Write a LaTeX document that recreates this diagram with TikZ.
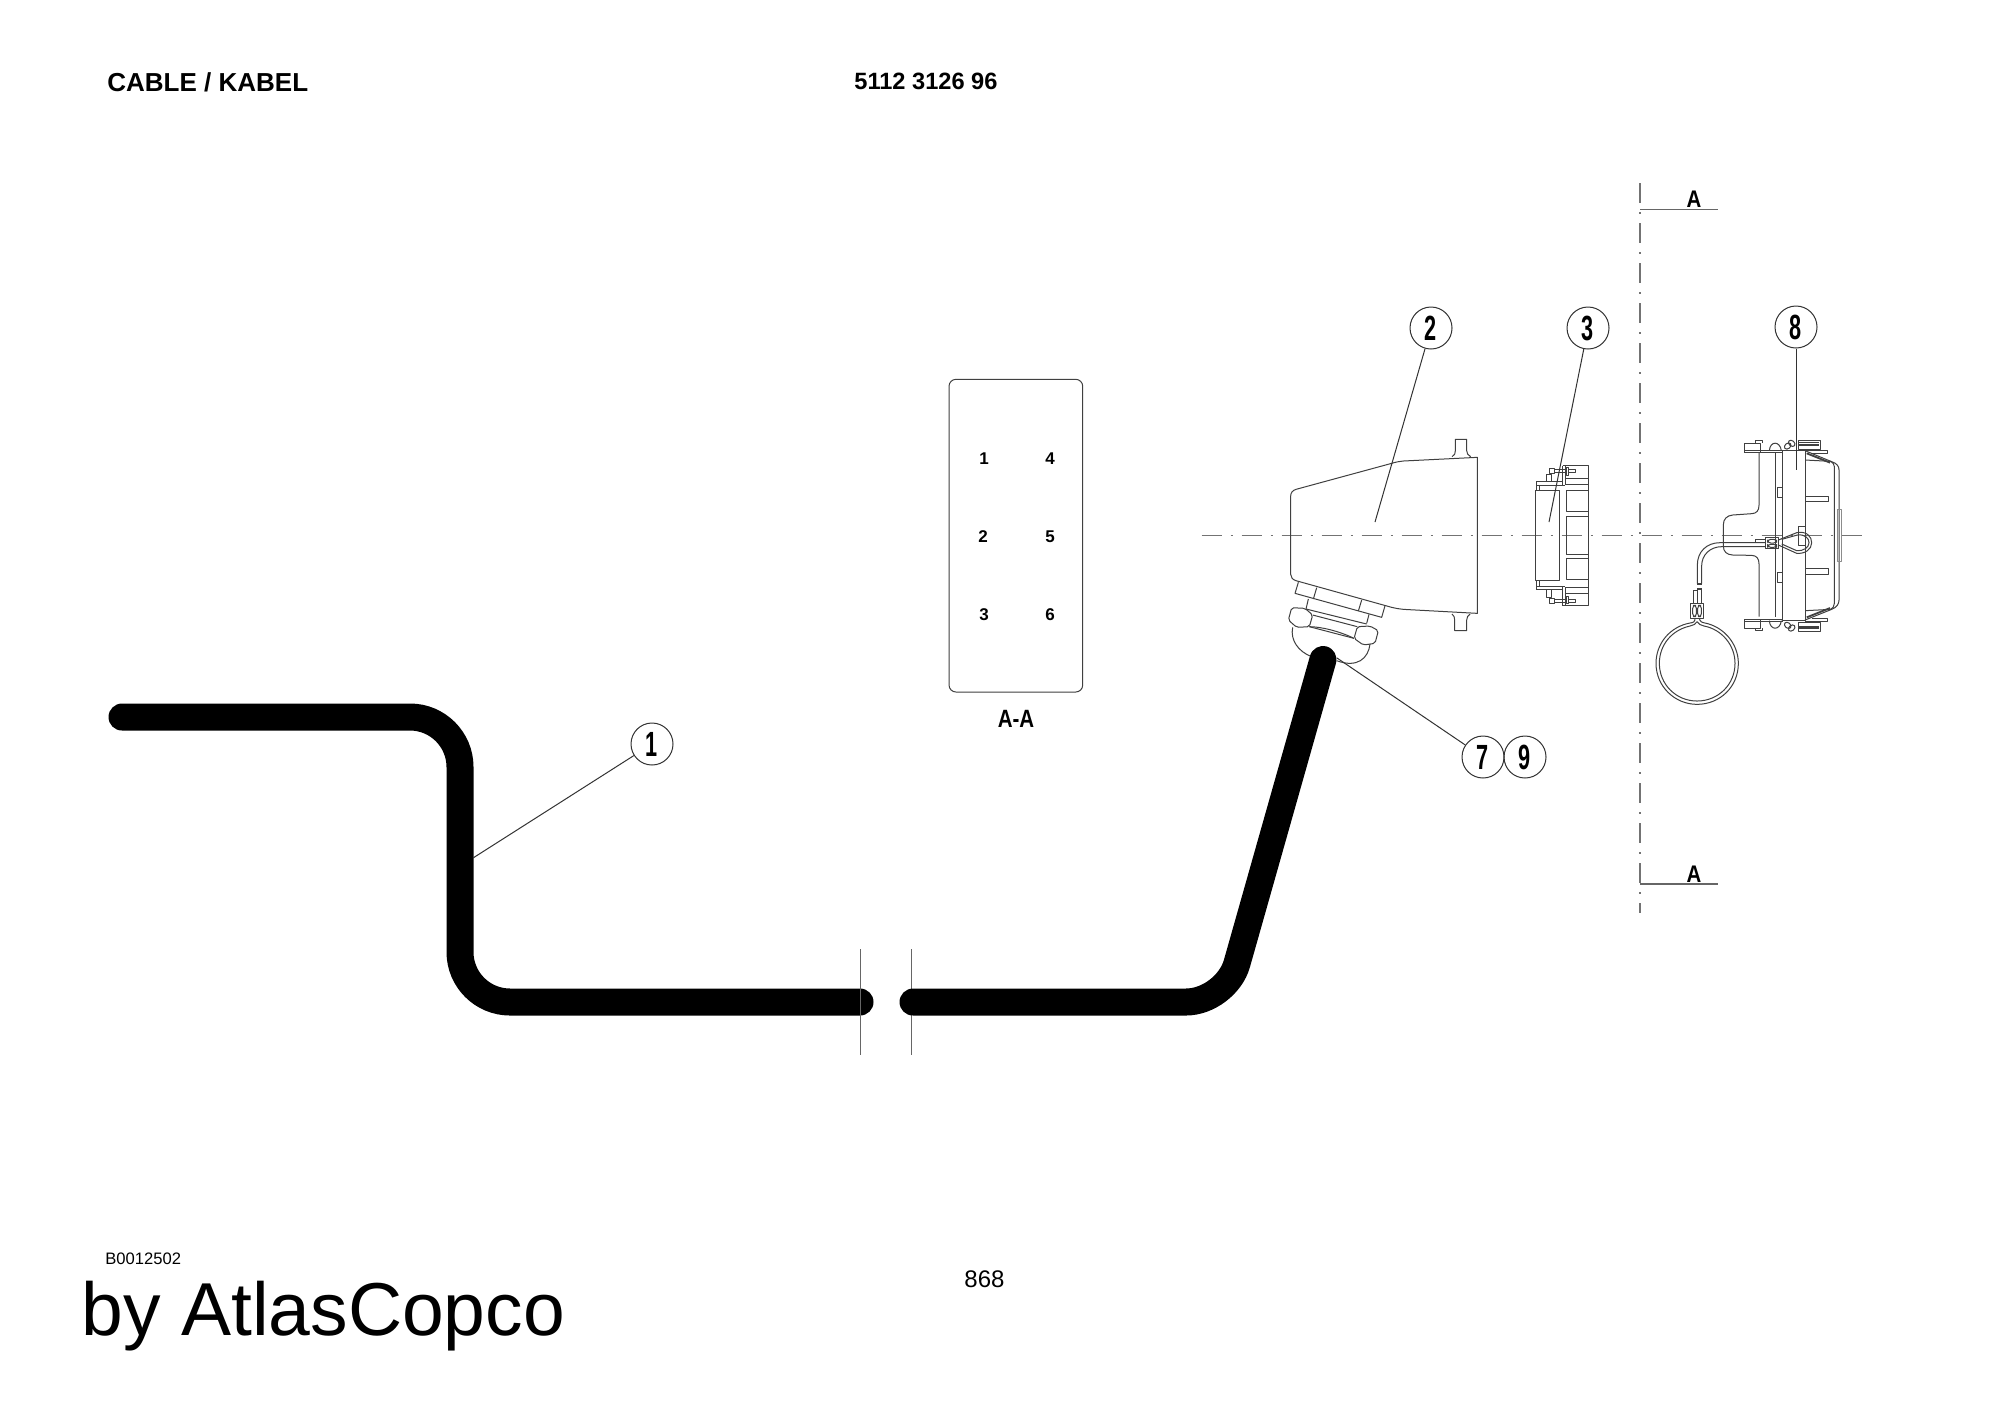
\documentclass[tikz,border=0pt]{standalone}
\usepackage{fontspec}
\setmainfont{Liberation Sans}
\definecolor{ink}{gray}{0.25}
\tikzset{
  lineart/.style={draw=ink,line width=0.5pt,line join=round},
  leader/.style={draw=black!80,line width=0.5pt},
  balloon/.style={circle,draw=black!80,line width=0.5pt,minimum size=21pt,inner sep=0pt},
  cable/.style={draw=black,line width=13.5pt,line cap=round},
  breakline/.style={draw=black!60,line width=0.45pt},
  centerline/.style={draw=black!55,line width=0.55pt,dash pattern=on 10pt off 4.5pt on 1pt off 4.5pt},
  sectionline/.style={draw=black!55,line width=0.55pt,dash pattern=on 10pt off 4.5pt on 1pt off 4.5pt},
  pagetext/.style={anchor=base west,inner sep=0pt},
  zoomone/.style={shift={(1270,420)},x=0.16667pt,y=-0.16667pt},
  zoomtwo/.style={shift={(1500,420)},x=0.16667pt,y=-0.16667pt},
  zoomthree/.style={shift={(1640,420)},x=0.16667pt,y=-0.16667pt},
}
\newcommand{\balnum}[1]{\scalebox{0.62}[1]{\fontsize{17.5pt}{18pt}\bfseries\selectfont #1}}
\newcommand{\pinnum}[1]{\fontsize{8.5pt}{9pt}\bfseries\selectfont #1}
\newcommand{\seclabel}[1]{\scalebox{0.85}[1]{\fontsize{12pt}{13pt}\bfseries\selectfont #1}}
\begin{document}
\begin{tikzpicture}[x=0.5pt,y=-0.5pt]
\useasboundingbox (0,0) rectangle (2000,1415);
\fill[white] (0,0) rectangle (2000,1415);

% page texts
\node[pagetext,font=\fontsize{13pt}{14pt}\bfseries\selectfont] (title) at (107,91) {CABLE / KABEL};
\node[pagetext,font=\fontsize{11.8pt}{13pt}\bfseries\selectfont] (partno) at (854,89) {5112 3126 96};
\node[pagetext,font=\fontsize{8.3pt}{9pt}\selectfont] (code) at (105,1264) {B0012502};
\node[pagetext,font=\fontsize{37.5pt}{39pt}\selectfont] (brand) at (81,1335) {by AtlasCopco};
\node[pagetext,font=\fontsize{12pt}{13pt}\selectfont] (pageno) at (964,1287) {868};

% cable, first run
\draw[cable,rounded corners=25pt] (122,717) -- (460,717) -- (460,1002) -- (860,1002);
\draw[breakline] (860,949) -- (860,1055);
\draw[breakline] (911,949) -- (911,1055);

% centre lines
\draw[centerline] (1201.7,535.7) -- (1862,535.7);
\draw[sectionline] (1640,183.3) -- (1640,913);
\draw[breakline,line width=0.6pt] (1640,209.5) -- (1718,209.5);
\draw[breakline,line width=0.6pt] (1640,884) -- (1718,884);
\node[inner sep=0pt] (secA) at (1694,199) {\seclabel{A}};
\node[inner sep=0pt] (secB) at (1694,874) {\seclabel{A}};

% section view
\draw[lineart,rounded corners=3.5pt] (949,379.3) rectangle (1082.7,692);
\node (p1) at (984,459) {\pinnum{1}};
\node (p4) at (1050,459) {\pinnum{4}};
\node (p2) at (983,537) {\pinnum{2}};
\node (p5) at (1050,537) {\pinnum{5}};
\node (p3) at (984,615) {\pinnum{3}};
\node (p6) at (1050,615) {\pinnum{6}};
\node (aa) at (1016,719) {\scalebox{0.82}[1]{\fontsize{12.5pt}{13pt}\bfseries\selectfont A-A}};

% connector hood (2) and gland (7,9)
\begin{scope}[zoomone]
\draw[lineart] (62,228) .. controls (62,218) and (68,211) .. (78,208) -- (365,130) .. controls (378,126) and (388,124) .. (400,123) -- (622,112) -- (622,580) -- (400,568) .. controls (388,567) and (378,565) .. (365,562) -- (78,482) .. controls (68,479) and (62,472) .. (62,463) -- cycle;
\draw[lineart] (546,110) .. controls (554,106) and (556,100) .. (556,92) -- (556,58) -- (590,58) -- (590,92) .. controls (590,100) and (594,106) .. (602,110);
\draw[lineart] (546,582) .. controls (552,587) and (554,592) .. (554,600) -- (554,632) -- (590,632) -- (590,600) .. controls (590,592) and (594,586) .. (600,582);
% upper nut
\draw[lineart] (85,487) -- (75,520) -- (335,592) -- (345,557);
\draw[lineart] (140,503) -- (130,537);
\draw[lineart] (275,540) -- (265,573);
% neck
\draw[lineart] (115,537) -- (108,567);
\draw[lineart] (297,583) -- (290,610);
\draw[lineart] (108,567) -- (290,612);
% lower nut
\draw[lineart,rounded corners=1pt] (65,563) -- (105,565) -- (128,585) -- (118,620) -- (80,622) -- (55,600) -- cycle;
\draw[lineart,rounded corners=1pt] (262,620) -- (300,618) -- (325,632) -- (315,670) -- (280,675) -- (252,655) -- cycle;
\draw[lineart] (128,585) -- (262,620);
\draw[lineart] (118,620) -- (252,655);
\draw[lineart] (118,620) .. controls (150,620) and (205,632) .. (252,655);
% dome
\draw[lineart] (68,622) .. controls (60,660) and (85,695) .. (125,710);
\draw[lineart] (300,672) .. controls (295,715) and (262,745) .. (200,722);
\end{scope}
% cable, second run, over the gland
\draw[cable,rounded corners=20pt] (913,1002) -- (1226,1002) -- (1323,659.5);

% insert (3)
\begin{scope}[zoomtwo]
\draw[lineart] (105,210) rectangle (178,480);
\draw[lineart] (195,137) -- (265,137) -- (265,557) -- (195,557);
\draw[lineart] (265,212) -- (198,212) -- (198,275) -- (265,275);
\draw[lineart] (265,290) -- (198,290) -- (198,403) -- (265,403);
\draw[lineart] (265,415) -- (198,415) -- (198,478) -- (265,478);
\foreach \m in {0,1}{
  \begin{scope}[shift={(0,694*\m)},yscale={1-2*\m}]
  \draw[lineart] (195,137) -- (195,192);
  \draw[lineart] (195,175) -- (265,175);
  \draw[lineart] (195,192) -- (265,192);
  \draw[lineart] (188,137) -- (195,137);
  \draw[lineart] (188,137) -- (188,195);
  \draw[lineart] (108,185) -- (188,185);
  \draw[lineart] (108,195) -- (195,195);
  \draw[lineart] (108,185) -- (108,210);
  \draw[lineart] (118,195) -- (118,210);
  \draw[lineart] (148,145) rectangle (162,160);
  \draw[lineart] (162,148) -- (200,148);
  \draw[lineart] (162,157) -- (200,157);
  \draw[lineart] (200,143) rectangle (206,165);
  \draw[lineart] (206,147) -- (226,147) -- (226,157) -- (206,157);
  \draw[lineart] (138,185) -- (138,163) -- (155,163) -- (155,185);
  \end{scope}
}
\end{scope}

% plug (8)
\begin{scope}[zoomthree]
% body
\draw[lineart] (357,97) -- (357,255) .. controls (357,272) and (350,280) .. (335,281) -- (278,285) .. controls (260,287) and (250,297) .. (250,315) -- (250,378) .. controls (250,395) and (260,404) .. (278,405) -- (335,406) .. controls (350,407) and (357,415) .. (357,432) -- (357,590);
\draw[lineart] (405,97) -- (405,590);
\draw[lineart] (428,92) rectangle (495,600);
\draw[lineart] (495,92) -- (575,125) .. controls (590,130) and (597,138) .. (597,150) -- (597,540) .. controls (597,552) and (590,562) .. (575,568) -- (495,600);
\draw[lineart] (495,120) -- (572,124) .. controls (578,128) and (583,132) .. (583,140) -- (583,550) .. controls (583,560) and (578,564) .. (572,568) -- (495,572);
\draw[lineart,line width=0.9pt] (500,100) -- (570,128);
\draw[lineart,line width=0.9pt] (500,592) -- (570,564);
\draw[lineart,draw=black!45] (592,268) rectangle (603,425);
\draw[lineart] (495,228) -- (565,228) -- (565,245) -- (495,245);
\draw[lineart] (495,445) -- (565,445) -- (565,463) -- (495,463);
\draw[lineart] (412,203) rectangle (428,233);
\draw[lineart] (412,458) rectangle (428,488);
\foreach \m in {0,1}{
  \begin{scope}[shift={(0,694*\m)},yscale={1-2*\m}]
  \draw[lineart] (388,92) .. controls (390,62) and (420,62) .. (424,92);
  \draw[lineart] (312,70) rectangle (360,97);
  \draw[lineart] (312,90) -- (428,90);
  \draw[lineart] (312,97) -- (428,97);
  \draw[lineart] (345,70) -- (345,62) -- (367,62) -- (367,70);
  \draw[lineart,rotate around={40:(443,78)}] (443,78) ellipse [x radius=11,y radius=8];
  \draw[lineart,rotate around={-40:(455,70)}] (455,70) ellipse [x radius=11,y radius=8];
  \draw[lineart] (475,60) rectangle (540,88);
  \draw[lineart] (478,68) -- (537,68);
  \draw[lineart,line width=1pt] (478,74) -- (537,74);
  \draw[lineart] (495,90) -- (562,90) -- (562,100) -- (515,100);
  \end{scope}
}
% lanyard clamp on the plug
\draw[lineart] (375,352) rectangle (415,385);
\draw[lineart,rounded corners=1.5pt] (383,358) rectangle (410,369);
\draw[lineart,rounded corners=1.5pt] (383,373) rectangle (410,382);
\draw[lineart] (375,358) -- (347,358) -- (347,368) -- (375,368);
\draw[lineart] (475,318) -- (495,318) -- (495,375) -- (475,375) -- cycle;
% eye
\draw[lineart] (415,360) -- (470,338) .. controls (500,332) and (515,350) .. (515,368) .. controls (515,388) and (495,402) .. (470,400) -- (415,375);
\draw[lineart] (425,358) -- (472,345) .. controls (495,342) and (507,355) .. (507,368) .. controls (507,382) and (490,394) .. (470,392) -- (425,372);
% wire
\draw[lineart] (375,368) -- (240,368) .. controls (200,368) and (172,395) .. (172,435) -- (172,491);
\draw[lineart] (375,380) -- (245,380) .. controls (210,380) and (185,405) .. (185,437) -- (185,491);
\draw[lineart,line width=1.2pt] (172,492) -- (185,492);
\draw[lineart,line width=1.2pt] (172,507) -- (185,507);
\draw[lineart] (172,507) -- (172,550);
\draw[lineart] (185,507) -- (185,550);
\draw[lineart] (160,550) -- (160,512) -- (172,512);
% ring clamp
\draw[lineart] (152,550) rectangle (190,595);
\draw[lineart,rounded corners=1.5pt] (158,556) rectangle (169,590);
\draw[lineart,rounded corners=1.5pt] (173,556) rectangle (184,590);
% ring
\draw[lineart] (165,595) .. controls (165,605) and (160,608) .. (150,609) .. controls (90,620) and (48,670) .. (48,730) .. controls (48,800) and (105,853) .. (171,853) .. controls (240,853) and (295,800) .. (295,730) .. controls (295,670) and (250,620) .. (195,609) .. controls (185,607) and (180,605) .. (178,595);
\draw[lineart] (171,605) .. controls (168,612) and (160,616) .. (150,618) .. controls (95,630) and (58,675) .. (58,730) .. controls (58,793) and (108,843) .. (171,843) .. controls (235,843) and (285,793) .. (285,730) .. controls (285,675) and (245,628) .. (192,618) .. controls (182,616) and (175,612) .. (171,605);
\end{scope}

% balloons and leaders
\node[balloon] (b1) at (652,744) {\balnum{1}};
\node[balloon] (b2) at (1431,328) {\balnum{2}};
\node[balloon] (b3) at (1588,328) {\balnum{3}};
\node[balloon] (b8) at (1796,327) {\balnum{8}};
\node[balloon] (b7) at (1483,757) {\balnum{7}};
\node[balloon] (b9) at (1525,757) {\balnum{9}};
\coordinate (e1) at (473,858);
\coordinate (e2) at (1375,522);
\coordinate (e3) at (1549,522);
\coordinate (e8) at (1796,470);
\coordinate (e7) at (1337,658);
\draw[leader] (b1) -- (e1);
\draw[leader] (b2) -- (e2);
\draw[leader] (b3) -- (e3);
\draw[leader] (b8) -- (e8);
\draw[leader] (b7) -- (e7);
\end{tikzpicture}
\end{document}
